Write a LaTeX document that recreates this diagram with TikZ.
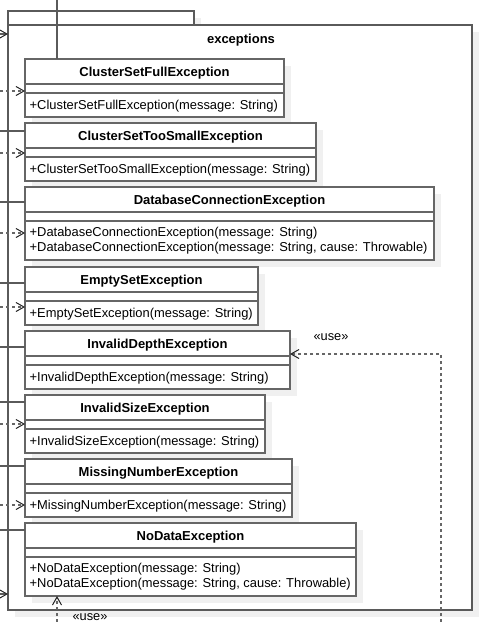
\documentclass[tikz,border=0pt]{standalone}
\usepackage{fontspec}
\setmainfont{Liberation Sans}
\usetikzlibrary{arrows.meta}
\definecolor{lc}{HTML}{666666}
\definecolor{pc}{HTML}{5A5A5A}
\definecolor{shc}{HTML}{F0F0F0}
\newcommand\umlbox[5]{%
  \fill[shd] (32,#2+7) rectangle (#3+7,#2+#4+7);
  \node[box, minimum width={(#3-25)*1pt}, minimum height={#4*1pt}, anchor=north west] (#1) at (25,#2) {};
  \draw[sep] (25,#2+25) -- (#3,#2+25) (25,#2+34) -- (#3,#2+34);
  \node[ttl] (#1t) at ({(25+#3)/2},#2+17.5) {#5};
}
\begin{document}
\begin{tikzpicture}[x=1pt,y=-1pt,
  box/.style={rectangle, draw=lc, line width=1.2pt, fill=white, inner sep=0pt, outer sep=0pt},
  ttl/.style={font=\fontsize{13}{15}\selectfont\bfseries, anchor=base, inner sep=0pt},
  mth/.style={font=\fontsize{12.9}{15}\selectfont, anchor=base west, inner sep=0pt},
  lbl/.style={font=\fontsize{12.8}{14}\selectfont, anchor=base, inner sep=0pt},
  sep/.style={draw=lc, line width=1.2pt},
  shd/.style={fill=shc},
  plain/.style={draw=pc, line width=1.2pt},
  assoc/.style={draw=pc, line width=1.2pt, -{Straight Barb[length=8pt,width=9pt,line width=1pt,color=black!85]}},
  dep/.style={draw=lc, line width=1.4pt, dash pattern=on 3pt off 3pt, -{Straight Barb[length=8pt,width=9pt,line width=1pt,color=black!85]}}]
\useasboundingbox (0,0) rectangle (483,622);
% package
\fill[shd] (15,18) rectangle (201,32);
\fill[shd] (15,32) rectangle (479,617);
\node[box, draw=pc, minimum width=186pt, minimum height=14pt, anchor=north west] (tab) at (8,11) {};
\node[box, draw=pc, minimum width=464pt, minimum height=585pt, anchor=north west] (pkg) at (8,25) {};
\node[ttl] (pkgl) at (241,43) {exceptions};
% classes
\umlbox{c1}{59}{284}{58}{ClusterSetFullException}
\node[mth] (c1m) at (29.5,109.5) {+ClusterSetFullException(message: String)};
\umlbox{c2}{123}{316}{58}{ClusterSetTooSmallException}
\node[mth] (c2m) at (29.5,173.5) {+ClusterSetTooSmallException(message: String)};
\umlbox{c3}{187}{434}{73}{DatabaseConnectionException}
\node[mth] (c3m) at (29.5,236.5) {+DatabaseConnectionException(message: String)};
\node[mth] (c3n) at (29.5,251.5) {+DatabaseConnectionException(message: String, cause: Throwable)};
\umlbox{c4}{267}{258}{58}{EmptySetException}
\node[mth] (c4m) at (29.5,317.5) {+EmptySetException(message: String)};
\umlbox{c5}{331}{290}{58}{InvalidDepthException}
\node[mth] (c5m) at (29.5,381.5) {+InvalidDepthException(message: String)};
\umlbox{c6}{395}{265}{58}{InvalidSizeException}
\node[mth] (c6m) at (29.5,445.5) {+InvalidSizeException(message: String)};
\umlbox{c7}{459}{292}{58}{MissingNumberException}
\node[mth] (c7m) at (29.5,509.5) {+MissingNumberException(message: String)};
\umlbox{c8}{523}{356}{73}{NoDataException}
\node[mth] (c8m) at (29.5,572.5) {+NoDataException(message: String)};
\node[mth] (c8n) at (29.5,587.5) {+NoDataException(message: String, cause: Throwable)};
% connectors
\coordinate (t1) at (57,0);
\draw[plain] (t1) -- (t1 |- c1.north);
\coordinate (pa1) at (0,34);
\draw[assoc] (pa1) -- (pa1 -| pkg.west);
\coordinate (pa2) at (0,594);
\draw[assoc] (pa2) -- (pa2 -| pkg.west);
\foreach \c/\y in {c2/131,c3/202,c4/283,c5/347,c6/402,c7/466,c8/530}{
  \coordinate (s\c) at (0,\y);
  \draw[plain] (s\c) -- (s\c -| \c.west);
}
\foreach \c/\y in {c1/91,c2/153,c3/233,c4/307,c6/424,c7/505}{
  \coordinate (d\c) at (0,\y);
  \draw[dep] (d\c) -- (d\c -| \c.west);
}
\coordinate (ub) at (57,622);
\draw[dep] (ub) -- (ub |- c8.south);
\node[lbl] (ubl) at (90,620) {«use»};
\coordinate (ur) at (441,622);
\coordinate (urc) at (441,354);
\draw[dep] (ur) -- (urc) -- (urc -| c5.east);
\node[lbl] (url) at (331,340) {«use»};
\end{tikzpicture}
\end{document}
